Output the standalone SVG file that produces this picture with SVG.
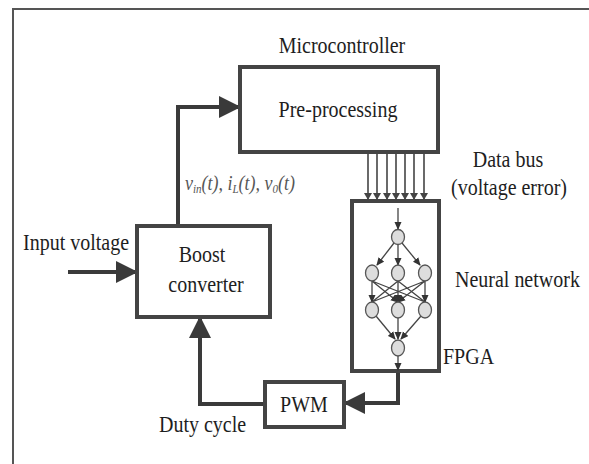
<svg xmlns="http://www.w3.org/2000/svg" width="589" height="464" viewBox="0 0 589 464" font-family="'Liberation Serif', 'Times New Roman', 'DejaVu Serif', serif">
<defs>
<style>
text{font-family:'Liberation Serif','Times New Roman','DejaVu Serif',serif}
.t{font-size:20px;fill:#1e1e1e}
.box{fill:#fff;stroke:#444;stroke-width:4}
.thick{fill:none;stroke:#3a3a3a;stroke-width:4}
.thin{fill:none;stroke:#444;stroke-width:1.3}
.bus{fill:none;stroke:#444;stroke-width:1.6}
.neu{fill:#ddd;stroke:#555;stroke-width:1.3}
.lab{font-style:italic;font-size:18px;fill:#555}
</style>
<marker id="ah" markerUnits="userSpaceOnUse" markerWidth="22" markerHeight="22" refX="21" refY="11" orient="auto">
<path d="M0,0 L22,11 L0,22 z" fill="#3a3a3a"/>
</marker>
<marker id="sa" markerUnits="userSpaceOnUse" markerWidth="8" markerHeight="8" refX="7" refY="4" orient="auto">
<path d="M0,0.5 L8,4 L0,7.5 z" fill="#333"/>
</marker>
<marker id="ba" markerUnits="userSpaceOnUse" markerWidth="8" markerHeight="8" refX="7" refY="4" orient="auto">
<path d="M0,0 L7,4 L0,8 z" fill="#444"/>
</marker>
</defs>
<rect width="589" height="464" fill="#fff"/>
<path d="M13,464 V9 H589" fill="none" stroke="#555" stroke-width="2"/>

<g id="connectors">
<path class="thick" d="M178,226 V107 H240" marker-end="url(#ah)"/>
<path class="thick" d="M68,272 H137" marker-end="url(#ah)"/>
<path class="thick" d="M398,372 V403 H344" marker-end="url(#ah)"/>
<path class="thick" d="M265,404 H200 V317" marker-end="url(#ah)"/>
<g id="databus">
<path class="bus" d="M368,152 V200" marker-end="url(#ba)"/>
<path class="bus" d="M377,152 V200" marker-end="url(#ba)"/>
<path class="bus" d="M387,152 V200" marker-end="url(#ba)"/>
<path class="bus" d="M396,152 V200" marker-end="url(#ba)"/>
<path class="bus" d="M405,152 V200" marker-end="url(#ba)"/>
<path class="bus" d="M414,152 V200" marker-end="url(#ba)"/>
<path class="bus" d="M424,152 V200" marker-end="url(#ba)"/>
</g>
</g>

<g id="microcontroller">
<text class="t" text-anchor="middle" transform="translate(342,53) scale(1,1.2)">Microcontroller</text>
<rect class="box" x="240" y="67" width="198" height="85"/>
<text class="t" text-anchor="middle" transform="translate(338,117) scale(1,1.2)">Pre-processing</text>
</g>

<g id="boost">
<rect class="box" x="137" y="226" width="133" height="91"/>
<text class="t" text-anchor="middle" transform="translate(202,262) scale(1,1.2)">Boost</text>
<text class="t" text-anchor="middle" transform="translate(206,292) scale(1,1.2)">converter</text>
</g>

<g id="input">
<text class="t" transform="translate(23,250) scale(1,1.2)">Input voltage</text>
</g>

<g id="signals">
<text class="lab" transform="translate(185,190) scale(1,1.15)">v<tspan font-size="11" dy="3">in</tspan><tspan dy="-3">(t), i</tspan><tspan font-size="11" dy="3">L</tspan><tspan dy="-3">(t), v</tspan><tspan font-size="11" dy="3">0</tspan><tspan dy="-3">(t)</tspan></text>
</g>

<g id="databus-label">
<text class="t" text-anchor="middle" transform="translate(508,167) scale(1,1.2)">Data bus</text>
<text class="t" text-anchor="middle" transform="translate(509,195) scale(1,1.2)">(voltage error)</text>
</g>

<g id="fpga">
<rect class="box" x="352" y="201" width="87" height="170"/>
<path class="thin" d="M398,208 V229" marker-end="url(#sa)"/>
<path class="thin" d="M394,243 L377,265" marker-end="url(#sa)"/>
<path class="thin" d="M398,245 V265" marker-end="url(#sa)"/>
<path class="thin" d="M402,243 L420,265" marker-end="url(#sa)"/>
<path class="thin" d="M372,281 V302 M372,281 L398,302 M372,281 L425,302 M398,281 L372,302 M398,281 V302 M398,281 L425,302 M425,281 L372,302 M425,281 L398,302 M425,281 V302"/>
<path class="thin" d="M372,296 V302" marker-end="url(#sa)"/>
<path class="thin" d="M392,297 L398,302" marker-end="url(#sa)"/>
<path class="thin" d="M404,297 L398,302" marker-end="url(#sa)"/>
<path class="thin" d="M398,296 V302" marker-end="url(#sa)"/>
<path class="thin" d="M425,296 V302" marker-end="url(#sa)"/>
<path class="thin" d="M376,316 L395,339" marker-end="url(#sa)"/>
<path class="thin" d="M398,318 V339" marker-end="url(#sa)"/>
<path class="thin" d="M421,316 L401,339" marker-end="url(#sa)"/>
<path class="thin" d="M398,356 V370" marker-end="url(#sa)"/>
<ellipse class="neu" cx="398" cy="237" rx="6.5" ry="7.5"/>
<ellipse class="neu" cx="372" cy="273" rx="6.5" ry="8"/>
<ellipse class="neu" cx="398" cy="273" rx="6.5" ry="8"/>
<ellipse class="neu" cx="425" cy="273" rx="6.5" ry="8"/>
<ellipse class="neu" cx="372" cy="310" rx="6.5" ry="8"/>
<ellipse class="neu" cx="398" cy="310" rx="6.5" ry="8"/>
<ellipse class="neu" cx="425" cy="310" rx="6.5" ry="8"/>
<ellipse class="neu" cx="398" cy="348" rx="6.5" ry="8"/>
<text class="t" transform="translate(455,287) scale(1,1.2)">Neural network</text>
<text class="t" transform="translate(443,364) scale(1,1.2)">FPGA</text>
</g>

<g id="pwm">
<rect class="box" x="265" y="382" width="79" height="45"/>
<text class="t" text-anchor="middle" transform="translate(304,412) scale(1,1.2)">PWM</text>
<text class="t" transform="translate(159,432) scale(1,1.2)">Duty cycle</text>
</g>
</svg>
